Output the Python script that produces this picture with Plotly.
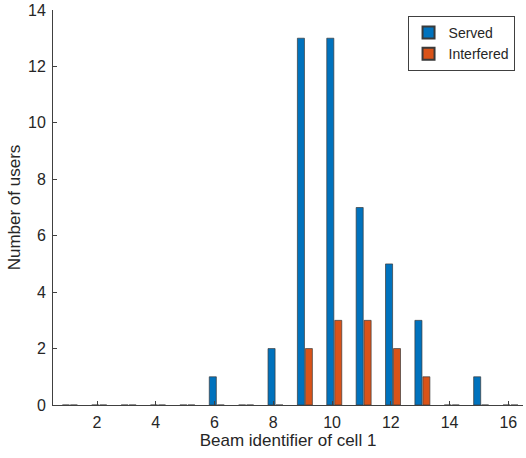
import plotly.graph_objects as go

beams = list(range(1, 17))
served = [0, 0, 0, 0, 0, 1, 0, 2, 13, 13, 7, 5, 3, 0, 1, 0]
interfered = [0, 0, 0, 0, 0, 0, 0, 0, 2, 3, 3, 2, 1, 0, 0, 0]
x_ticks = [2, 4, 6, 8, 10, 12, 14, 16]
y_ticks = [0, 2, 4, 6, 8, 10, 12, 14]

fig = go.Figure()
fig.add_trace(go.Bar(x=beams, y=served, name="Served", width=0.24, offset=-0.18,
                     marker=dict(color="#0072BD", line=dict(color="#3a3a3a", width=0.7))))
fig.add_trace(go.Bar(x=beams, y=interfered, name="Interfered", width=0.24, offset=0.09,
                     marker=dict(color="#D95319", line=dict(color="#3a3a3a", width=0.7))))

axis_common = dict(showline=True, linecolor="#404040", linewidth=1, ticks="inside",
                   ticklen=4, tickcolor="#404040", showgrid=False, zeroline=False,
                   tickfont=dict(size=16, color="#262626"),
                   title_font=dict(size=17, color="#262626"),
                   ticklabelstandoff=3)
fig.update_xaxes(range=[0.5, 16.5], tickvals=x_ticks, title_text="Beam identifier of cell 1",
                 title_standoff=2, **axis_common)
fig.update_yaxes(range=[0, 14], tickvals=y_ticks, title_text="Number of users",
                 title_standoff=3, **axis_common)

fig.update_layout(
    width=526, height=458,
    margin=dict(l=53, r=3, t=10, b=53),
    plot_bgcolor="white", paper_bgcolor="white",
    font=dict(family="Liberation Sans, Arial, sans-serif", color="#262626"),
    barmode="overlay",
    legend=dict(x=0.982, y=0.985, xanchor="right", yanchor="top",
                bordercolor="#404040", borderwidth=1, bgcolor="white",
                font=dict(size=14), tracegroupgap=0, itemsizing="constant",
                itemwidth=30),
    showlegend=True,
)
fig.write_html("out.html", config={"displayModeBar": False},
               post_script="document.body.style.margin='0';document.body.style.overflow='hidden';")
